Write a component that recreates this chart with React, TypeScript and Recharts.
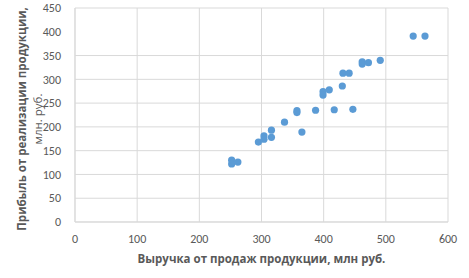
import { ScatterChart, Scatter, XAxis, YAxis, CartesianGrid } from 'recharts';

// выручка, млн руб.
const revenue = [252, 252, 262, 295, 304, 304, 316, 316, 337, 357, 357, 365, 387, 399, 399, 409, 417, 430, 431, 441, 447, 462, 462, 472, 491, 544, 563];
// прибыль, млн руб.
const profit = [130, 122, 126, 168, 181, 174, 193, 178, 210, 234, 230, 189, 235, 274, 267, 278, 236, 286, 313, 313, 237, 337, 332, 335, 340, 391, 391];

const xTicks = [0, 100, 200, 300, 400, 500, 600];
const yTicks = [0, 50, 100, 150, 200, 250, 300, 350, 400, 450];

const xTitle = 'Выручка от продаж продукции, млн руб.';
const yTitle1 = 'Прибыль от реализации продукции,';
const yTitle2 = 'млн. руб.';

const points = revenue.map((x, i) => ({ x, y: profit[i] }));

const font = 'Calibri, Carlito, "Liberation Sans", Arial, sans-serif';
const titleFont = '"Open Sans", sans-serif';
const textColor = '#595959';

const YTitle = ({ viewBox }: any) => {
  const cy = viewBox.y + viewBox.height / 2 + 4;
  return (
    <text
      transform={`rotate(-90, 30, ${cy})`}
      x={30}
      y={cy}
      textAnchor="middle"
      fontFamily={titleFont}
      fontSize={11.5}
      fill={textColor}
    >
      <tspan x={30} dy={-4} fontWeight="bold">{yTitle1}</tspan>
      <tspan x={30} dy={16}>{yTitle2}</tspan>
    </text>
  );
};

const Dot = (props: any) => <circle cx={props.cx} cy={props.cy} r={3.6} fill="#5B9BD5" />;

export default function App() {
  return (
    <div style={{ position: 'absolute', left: 0, top: 0, background: '#fff' }}>
      <ScatterChart width={469} height={278} margin={{ top: 8, right: 21, left: 0, bottom: 0 }}>
        <CartesianGrid stroke="#d9d9d9" horizontal vertical />
        <XAxis
          type="number"
          dataKey="x"
          domain={[0, 600]}
          ticks={xTicks}
          height={56}
          axisLine={{ stroke: '#d9d9d9' }}
          tickLine={false}
          tickMargin={6}
          tick={{ fill: textColor, fontSize: 12, fontFamily: font }}
          label={{
            value: xTitle,
            position: 'insideBottom',
            offset: 15,
            fill: textColor,
            fontSize: 11.5,
            fontWeight: 'bold',
            fontFamily: titleFont,
          }}
        />
        <YAxis
          type="number"
          dataKey="y"
          domain={[0, 450]}
          ticks={yTicks}
          width={75}
          axisLine={{ stroke: '#d9d9d9' }}
          tickLine={false}
          tickMargin={8}
          tick={{ fill: textColor, fontSize: 12, fontFamily: font }}
          label={<YTitle />}
        />
        <Scatter data={points} shape={Dot} isAnimationActive={false} />
      </ScatterChart>
    </div>
  );
}
